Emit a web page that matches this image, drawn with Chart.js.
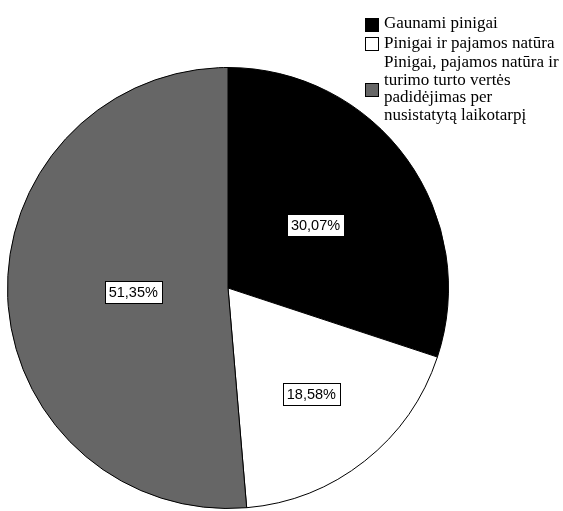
<!DOCTYPE html>
<html>
<head>
<meta charset="utf-8">
<script src="https://cdn.jsdelivr.net/npm/chart.js@4/dist/chart.umd.min.js"></script>
<style>
  html, body { margin: 0; padding: 0; background: #fff; }
  #wrap { width: 563px; height: 511px; }
</style>
</head>
<body>
<div id="wrap"><canvas id="pieChart" width="563" height="511"></canvas></div>
<script>
const categories = [
    ['Gaunami pinigai'],
    ['Pinigai ir pajamos natūra'],
    ['Pinigai, pajamos natūra ir', 'turimo turto vertės', 'padidėjimas per', 'nusistatytą laikotarpį']
];
const shares = [30.07, 18.58, 51.35];
const sliceColors = ['#000000', '#ffffff', '#666666'];

// how far out (fraction of radius) each value box sits
const labelRadius = [0.49, 0.61, 0.43];

const valueBoxes = {
    id: 'valueBoxes',
    afterDatasetsDraw(chart) {
        const ctx = chart.ctx;
        const meta = chart.getDatasetMeta(0);
        ctx.save();
        ctx.font = '14.5px "Liberation Sans", Arial, sans-serif';
        ctx.textAlign = 'center';
        ctx.textBaseline = 'middle';
        meta.data.forEach((arc, i) => {
            const mid = (arc.startAngle + arc.endAngle) / 2;
            const r = arc.outerRadius * labelRadius[i];
            const x = arc.x + Math.cos(mid) * r;
            const y = arc.y + Math.sin(mid) * r;
            const text = shares[i].toFixed(2).replace('.', ',') + '%';
            const w = Math.round(ctx.measureText(text).width + 8);
            const h = 22;
            const bx = Math.round(x - w / 2) + 0.5, by = Math.round(y - h / 2) + 0.5;
            ctx.fillStyle = '#fff';
            ctx.fillRect(bx, by, w, h);
            ctx.strokeStyle = '#000';
            ctx.lineWidth = 1;
            ctx.strokeRect(bx, by, w, h);
            ctx.fillStyle = '#000';
            ctx.fillText(text, x, y + 1);
        });
        ctx.restore();
    }
};

const sideLegend = {
    id: 'sideLegend',
    afterDraw(chart) {
        const ctx = chart.ctx;
        ctx.save();
        ctx.font = '17px "Liberation Serif", "Times New Roman", serif';
        ctx.textBaseline = 'middle';
        ctx.lineWidth = 1;
        const boxX = 365, textX = 384, box = 13, lineH = 17.5;
        let y = 24;
        categories.forEach((lines, i) => {
            const blockMid = y + (lines.length - 1) * lineH / 2;
            ctx.fillStyle = sliceColors[i];
            ctx.fillRect(boxX + 0.5, Math.round(blockMid - box / 2) + 0.5, box, box);
            ctx.strokeStyle = '#000';
            ctx.strokeRect(boxX + 0.5, Math.round(blockMid - box / 2) + 0.5, box, box);
            ctx.fillStyle = '#000';
            lines.forEach((line, j) => ctx.fillText(line, textX, y + j * lineH));
            y += lines.length * lineH + 2;
        });
        ctx.restore();
    }
};

new Chart(document.getElementById('pieChart'), {
    type: 'pie',
    data: {
        labels: categories.map(l => l.join(' ')),
        datasets: [{
            data: shares,
            backgroundColor: sliceColors,
            borderColor: '#000',
            borderWidth: 1
        }]
    },
    options: {
        responsive: false,
        animation: false,
        layout: { padding: { left: 7, right: 114, top: 65, bottom: 0 } },
        plugins: {
            legend: { display: false },
            tooltip: { enabled: false }
        }
    },
    plugins: [valueBoxes, sideLegend]
});
</script>
</body>
</html>
